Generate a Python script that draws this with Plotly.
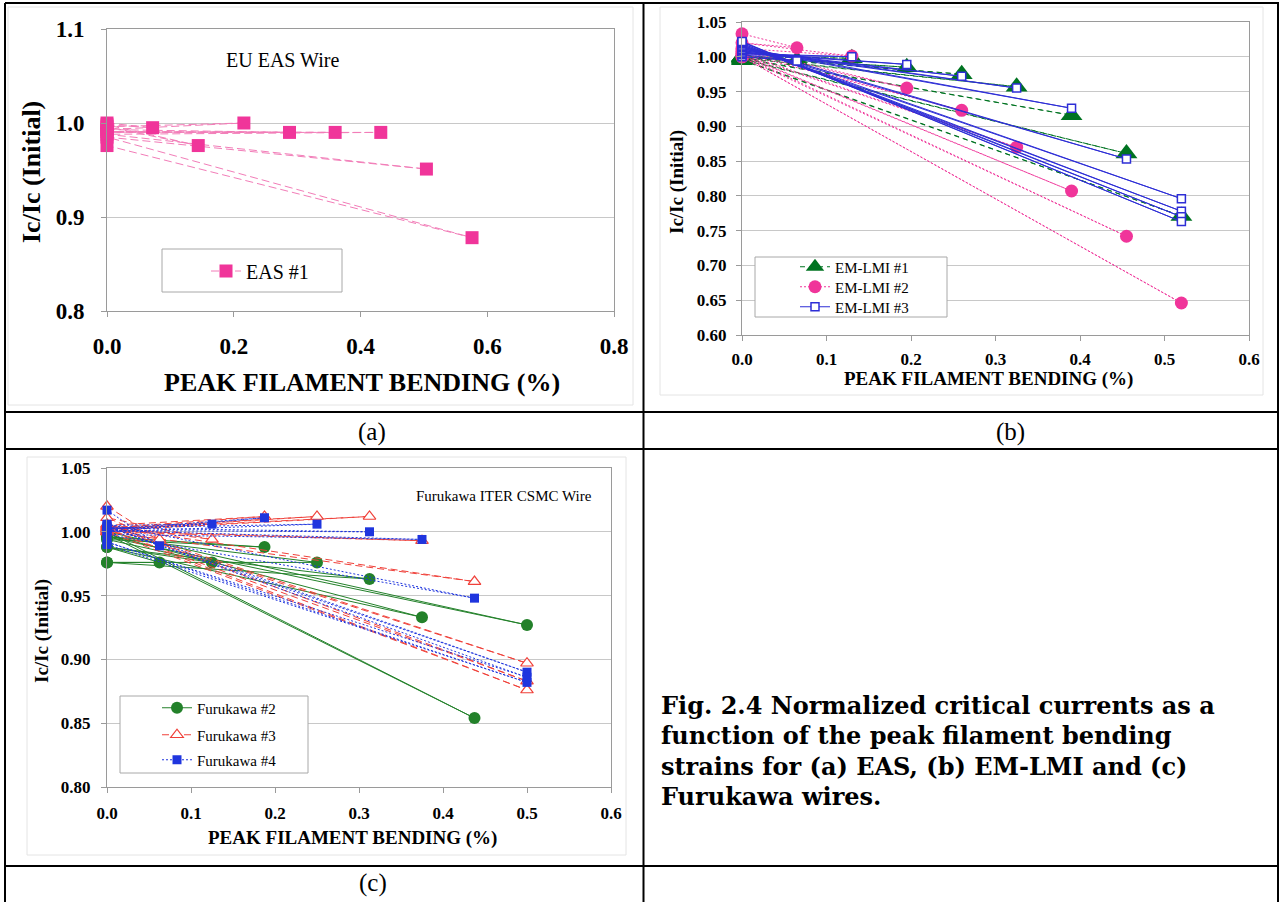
import plotly.graph_objects as go

W, H = 1281, 902


def X(px):
    return px / W


def Y(py):
    return 1 - py / H


# ---------------- data ----------------
# (a) EU EAS wire: alternating zero-bending and bent measurements
eas_x = [0, 0.072, 0, 0.144, 0, 0.216, 0, 0.288, 0, 0.36, 0, 0.432, 0, 0.504, 0, 0.576, 0]
eas_y = [1.000, 0.995, 0.998, 0.976, 0.996, 1.000, 0.993, 0.990, 0.991, 0.990,
         0.990, 0.990, 0.988, 0.951, 0.985, 0.878, 0.976]

# (b) EM-LMI wires
em1_x = [0, 0.065, 0, 0.13, 0, 0.195, 0, 0.26, 0, 0.325, 0, 0.39, 0, 0.455, 0, 0.52, 0]
em1_y = [1.000, 0.995, 1.000, 0.998, 1.000, 0.985, 1.000, 0.975, 0.999, 0.957,
         0.998, 0.916, 0.997, 0.861, 0.996, 0.771, 0.995]
em2_x = [0, 0.065, 0, 0.13, 0, 0.195, 0, 0.26, 0, 0.325, 0, 0.39, 0, 0.455, 0, 0.52, 0]
em2_y = [1.033, 1.013, 1.020, 1.001, 1.012, 0.955, 1.008, 0.923, 1.005, 0.870,
         1.003, 0.807, 1.002, 0.742, 1.000, 0.646, 1.000]
em3_x = [0, 0.065, 0, 0.13, 0, 0.195, 0, 0.26, 0, 0.325, 0, 0.39, 0, 0.455, 0,
         0.52, 0, 0.52, 0, 0.52, 0, 0.52, 0]
em3_y = [1.000, 0.994, 1.003, 1.000, 1.005, 0.989, 1.007, 0.972, 1.009, 0.955,
         1.011, 0.926, 1.013, 0.853, 1.015, 0.796, 1.017, 0.778, 1.019, 0.770,
         1.021, 0.763, 1.022]

# (c) Furukawa wires
f2_x = [0, 0.0625, 0, 0.125, 0, 0.1875, 0, 0.25, 0, 0.3125, 0, 0.375, 0, 0.4375, 0, 0.5, 0]
f2_y = [0.976, 0.976, 0.988, 0.976, 0.994, 0.988, 0.996, 0.976, 0.976, 0.963,
        0.988, 0.933, 0.998, 0.854, 1.000, 0.927, 0.996]
f3_x = [0, 0.0625, 0, 0.125, 0, 0.1875, 0, 0.25, 0, 0.3125, 0, 0.375, 0, 0.4375, 0,
        0.5, 0, 0.5, 0, 0.5, 0]
f3_y = [1.020, 0.994, 1.011, 0.994, 1.005, 1.012, 1.003, 1.012, 1.002, 1.012,
        1.001, 0.993, 1.000, 0.961, 1.004, 0.897, 1.006, 0.883, 1.002, 0.876, 1.000]
f4_x = [0, 0.0625, 0, 0.125, 0, 0.1875, 0, 0.25, 0, 0.3125, 0, 0.375, 0, 0.4375, 0,
        0.5, 0, 0.5, 0, 0.5, 0]
f4_y = [1.017, 0.989, 1.005, 1.006, 1.002, 1.011, 1.000, 1.006, 1.003, 1.000,
        1.001, 0.994, 0.998, 0.948, 1.006, 0.890, 1.004, 0.886, 0.992, 0.882, 0.990]

panel_labels = ["(a)", "(b)", "(c)"]
caption_lines = [
    "Fig. 2.4 Normalized critical currents as a",
    "function of the peak filament bending",
    "strains for (a) EAS, (b) EM-LMI and (c)",
    "Furukawa wires.",
]

# ---------------- styles ----------------
SERIF = "Liberation Serif"
PINK = "#F0359A"
PINK_LINE = "#F27DB8"
DGREEN = "#007321"
BLUE_B = "#2E2ED6"
GREEN_C = "#23812A"
RED_C = "#F0413A"
BLUE_C = "#1F35DE"

fig = go.Figure()

fig.add_trace(go.Scatter(
    x=eas_x, y=eas_y, mode="lines+markers", name="EAS #1",
    xaxis="x", yaxis="y", legend="legend", cliponaxis=False,
    line=dict(color=PINK_LINE, width=1, dash="8px,4px"),
    marker=dict(symbol="square", size=13, color=PINK)))

fig.add_trace(go.Scatter(
    x=em1_x, y=em1_y, mode="lines+markers", name="EM-LMI #1",
    xaxis="x2", yaxis="y2", legend="legend2", cliponaxis=False,
    line=dict(color=DGREEN, width=1, dash="5px,4px"),
    marker=dict(symbol="triangle-up", size=19, color=DGREEN)))
fig.add_trace(go.Scatter(
    x=em2_x, y=em2_y, mode="lines+markers", name="EM-LMI #2",
    xaxis="x2", yaxis="y2", legend="legend3", cliponaxis=False,
    line=dict(color=PINK, width=1, dash="2px,2px"),
    marker=dict(symbol="circle", size=13, color=PINK)))
fig.add_trace(go.Scatter(
    x=em3_x, y=em3_y, mode="lines+markers", name="EM-LMI #3",
    xaxis="x2", yaxis="y2", legend="legend4", cliponaxis=False,
    line=dict(color=BLUE_B, width=1),
    marker=dict(symbol="square", size=8, color="white",
                line=dict(color=BLUE_B, width=1.5))))

fig.add_trace(go.Scatter(
    x=f2_x, y=f2_y, mode="lines+markers", name="Furukawa #2",
    xaxis="x3", yaxis="y3", legend="legend5", cliponaxis=False,
    line=dict(color=GREEN_C, width=1),
    marker=dict(symbol="circle", size=12, color=GREEN_C)))
fig.add_trace(go.Scatter(
    x=f3_x, y=f3_y, mode="lines+markers", name="Furukawa #3",
    xaxis="x3", yaxis="y3", legend="legend6", cliponaxis=False,
    line=dict(color=RED_C, width=1, dash="7px,4px"),
    marker=dict(symbol="triangle-up", size=11, color="white",
                line=dict(color=RED_C, width=1.2))))
fig.add_trace(go.Scatter(
    x=f4_x, y=f4_y, mode="lines+markers", name="Furukawa #4",
    xaxis="x3", yaxis="y3", legend="legend7", cliponaxis=False,
    line=dict(color=BLUE_C, width=1, dash="2px,2px"),
    marker=dict(symbol="square", size=9, color=BLUE_C)))


def xax(domain, anchor, rng, dtick, fsize, standoff):
    return dict(domain=domain, anchor=anchor, range=rng, dtick=dtick, tick0=0,
                tickformat=".1f", showgrid=False, zeroline=False, automargin=False,
                showline=True, linecolor="#9A9A9A", linewidth=1, mirror=True,
                ticks="outside", ticklen=5, tickcolor="#9A9A9A",
                ticklabelstandoff=standoff,
                tickfont=dict(family=SERIF, size=fsize, color="black", weight=700))


def yax(domain, anchor, rng, dtick, fmt, fsize, standoff):
    return dict(domain=domain, anchor=anchor, range=rng, dtick=dtick, tick0=0,
                tickformat=fmt, showgrid=True, gridcolor="#C8C8C8", gridwidth=1,
                zeroline=False, automargin=False,
                showline=True, linecolor="#9A9A9A", linewidth=1, mirror=True,
                ticks="outside", ticklen=5, tickcolor="#9A9A9A",
                ticklabelstandoff=standoff,
                tickfont=dict(family=SERIF, size=fsize, color="black", weight=700))


shapes = []
BK = dict(color="black", width=2)


def hline(y, x0=5, x1=1279, line=BK):
    shapes.append(dict(type="line", xref="paper", yref="paper",
                       x0=X(x0), x1=X(x1), y0=Y(y), y1=Y(y), line=line))


def vline(x, y0=3, y1=902, line=BK):
    shapes.append(dict(type="line", xref="paper", yref="paper",
                       x0=X(x), x1=X(x), y0=Y(y0), y1=Y(y1), line=line))


def rect(x0, y0, x1, y1, line, fill=None, layer="below"):
    d = dict(type="rect", xref="paper", yref="paper", x0=X(x0), x1=X(x1),
             y0=Y(y1), y1=Y(y0), line=line, layer=layer)
    if fill:
        d["fillcolor"] = fill
    shapes.append(d)


# faint chart-area frames
FAINT = dict(color="#E4E4E4", width=1)
rect(8, 7, 633, 405, FAINT)
rect(660, 7, 1263, 395, FAINT)
rect(27, 457, 626, 855, FAINT)

# legend boxes
LB = dict(color="#A8A8A8", width=1)
rect(162, 249, 342, 292, LB, "white", "above")
rect(755, 257, 947, 317, LB, "white", "above")
rect(120, 696, 308, 773, LB, "white", "above")

# table borders
hline(3)
hline(412)
hline(449)
hline(866)
vline(5)
vline(643.5)
vline(1278)

annotations = []


def ann(text, x, y, size, family=SERIF, angle=0, xanchor="center", bold=False):
    annotations.append(dict(
        text=f"<b>{text}</b>" if bold else text, x=X(x), y=Y(y),
        xref="paper", yref="paper", xanchor=xanchor, yanchor="middle",
        showarrow=False, textangle=angle,
        font=dict(family=family, size=size, color="black")))


# axis titles
ann("PEAK FILAMENT BENDING (%)", 362, 383, 26, bold=True)
ann("Ic/Ic (Initial)", 31, 172, 26, angle=-90, bold=True)
ann("PEAK FILAMENT BENDING (%)", 988, 379, 19, bold=True)
ann("Ic/Ic (Initial)", 677, 182, 19, angle=-90, bold=True)
ann("PEAK FILAMENT BENDING (%)", 352, 838, 19, bold=True)
ann("Ic/Ic (Initial)", 42, 631, 19, angle=-90, bold=True)

# in-plot titles
ann("EU EAS Wire", 282, 60, 20)
ann("Furukawa ITER CSMC Wire", 504, 496, 15)

# panel labels
ann(panel_labels[0], 372, 432, 25)
ann(panel_labels[1], 1010, 432, 25)
ann(panel_labels[2], 373, 883, 25)

# caption
for i, line in enumerate(caption_lines):
    ann(line, 659, 705 + i * 30.6, 24, family="DejaVu Serif", xanchor="left", bold=True)


def leg(x, y, size):
    return dict(x=X(x), y=Y(y), xanchor="left", yanchor="middle",
                bgcolor="rgba(0,0,0,0)", borderwidth=0, orientation="v",
                font=dict(family=SERIF, size=size, color="black"))


fig.update_layout(
    width=W, height=H, autosize=False,
    margin=dict(l=0, r=0, t=0, b=0, pad=0, autoexpand=False),
    paper_bgcolor="white", plot_bgcolor="white",
    showlegend=True,
    xaxis=xax([X(107), X(614)], "y", [0, 0.8], 0.2, 23, 9),
    yaxis=yax([Y(311), Y(29)], "x", [0.8, 1.1], 0.1, ".1f", 23, 12),
    xaxis2=xax([X(742), X(1249)], "y2", [0, 0.6], 0.1, 17, 4),
    yaxis2=yax([Y(335), Y(22)], "x2", [0.6, 1.05], 0.05, ".2f", 17, 6),
    xaxis3=xax([X(107), X(611)], "y3", [0, 0.6], 0.1, 17, 6),
    yaxis3=yax([Y(787), Y(468)], "x3", [0.8, 1.05], 0.05, ".2f", 17, 7),
    legend=leg(206, 271, 20),
    legend2=leg(795, 267, 15),
    legend3=leg(795, 287, 15),
    legend4=leg(795, 307, 15),
    legend5=leg(157, 708, 15),
    legend6=leg(157, 735, 15),
    legend7=leg(157, 760, 15),
    shapes=shapes,
    annotations=annotations,
)

fig.write_html("out.html")
